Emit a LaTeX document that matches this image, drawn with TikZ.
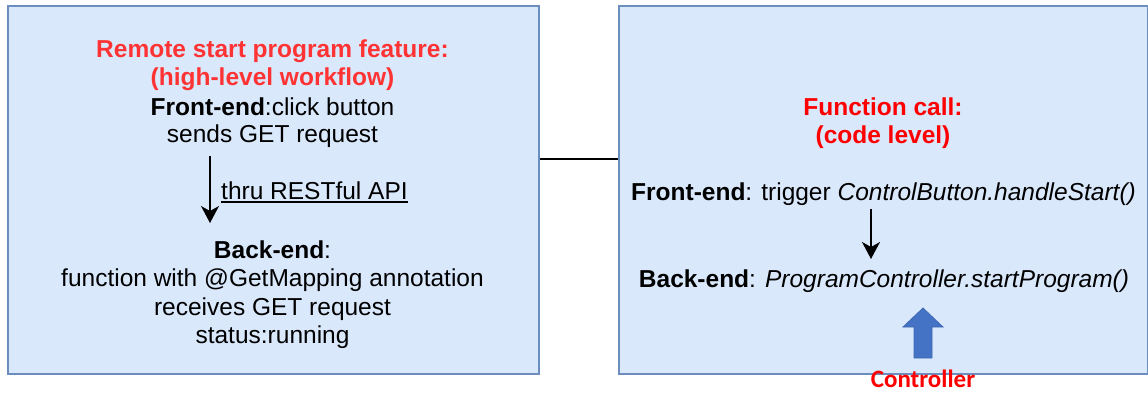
\documentclass[tikz,border=0pt]{standalone}
\usepackage{fontspec}
\setmainfont{Liberation Sans}
\newfontfamily\calib{Carlito}
\usetikzlibrary{arrows.meta}
\definecolor{boxfill}{HTML}{DAE8FC}
\definecolor{boxline}{HTML}{6C8EBF}
\definecolor{titlered}{HTML}{FF3333}
\definecolor{purered}{HTML}{FF0000}
\definecolor{blockblue}{HTML}{4472C4}
\definecolor{blockedge}{HTML}{3F68B5}
\begin{document}
\begin{tikzpicture}[x=1pt,y=-1pt,
  panel/.style={draw=boxline,fill=boxfill,line width=1.5pt,inner sep=0pt,anchor=north west},
  txt/.style={anchor=base,inner sep=0pt,font=\fontsize{24.5}{29}\selectfont},
  link/.style={line width=1.5pt},
  flow/.style={line width=1.5pt,-{Stealth[length=17pt,width=18pt,inset=5pt]}}]
\useasboundingbox (0,0) rectangle (1148,392);
% panels
\node[panel,minimum width=531pt,minimum height=368pt] (L) at (7,5) {};
\node[panel,minimum width=529pt,minimum height=368pt] (R) at (618,5) {};
\draw[link] ([yshift=31pt]L.east) -- ([yshift=31pt]R.west);
% left panel text
\node[txt,text=titlered] (l1) at (272.5,57) {\bfseries Remote start program feature:};
\node[txt,text=titlered] (l2) at (272.5,85) {\bfseries (high-level workflow)};
\node[txt] (l3) at (272.5,115) {\textbf{Front-end}:click button};
\node[txt] (l4) at (272.5,142) {sends GET request};
\coordinate (la) at (210,156);
\coordinate (lb) at (210,223);
\draw[flow] (la) -- (lb);
\node[txt,anchor=base west] (thru) at (221,199) {thru RESTful API};
\draw[line width=1.2pt] ([yshift=-3pt]thru.base west) -- ([yshift=-3pt]thru.base east);
\node[txt] (l5) at (272.5,258) {\textbf{Back-end}:};
\node[txt] (l6) at (272.5,286) {function with @GetMapping annotation};
\node[txt] (l7) at (272.5,315) {receives GET request};
\node[txt] (l8) at (272.5,343) {status:running};
% right panel text
\node[txt,text=purered] (r1) at (883,115) {\bfseries Function call:};
\node[txt,text=purered] (r2) at (883,143) {\bfseries (code level)};
\node[txt] (r3) at (883.5,200) {\textbf{Front-end}: trigger \textit{ControlButton.handleStart()}};
\node[txt] (r4) at (884,287) {\textbf{Back-end}: \textit{ProgramController.startProgram()}};
\coordinate (ra) at (871,209);
\coordinate (rb) at (871,259);
\draw[flow] (ra) -- (rb);
% block arrow
\fill[blockblue,draw=blockedge,line width=0.8pt] (923,308) -- (943,327) -- (932,327) -- (932,358) -- (914,358) -- (914,327) -- (903,327) -- cycle;
\node[anchor=base,inner sep=0pt,text=purered,font=\calib\bfseries\fontsize{25}{30}\selectfont] (ctl) at (923,387) {Controller};
\end{tikzpicture}
\end{document}
